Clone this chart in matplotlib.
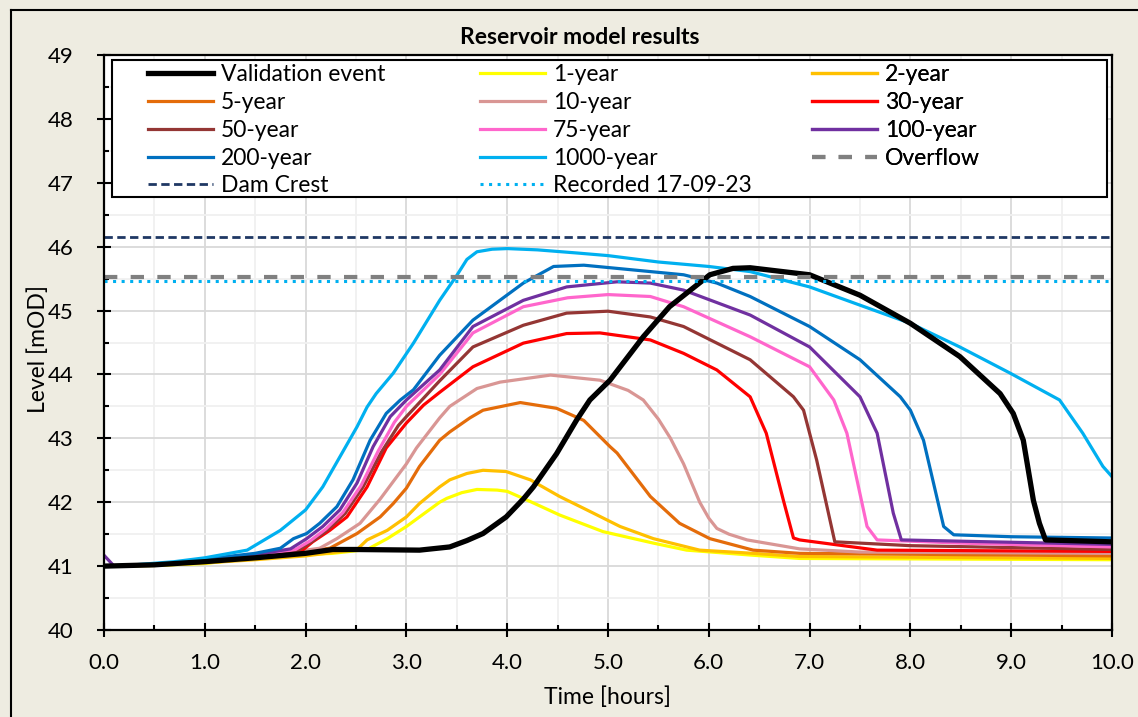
import numpy as np
import matplotlib
matplotlib.use("Agg")
import matplotlib.pyplot as plt
from matplotlib.lines import Line2D
from matplotlib.patches import Rectangle
from matplotlib.ticker import MultipleLocator, FormatStrFormatter

plt.rcParams['font.family'] = ['Lato', 'DejaVu Sans']

# ---- data (time in hours, level in mOD) ----
val_t = [0, 0.5, 1.0, 1.5, 2.0, 2.27, 2.5, 3.13, 3.43, 3.6, 3.76, 3.99, 4.16, 4.26, 4.49, 4.69,
         4.82, 5.02, 5.35, 5.61, 6.01, 6.24, 6.41, 7.0, 7.5, 8.0, 8.49, 8.89, 9.02, 9.12, 9.22,
         9.28, 9.34, 10.0]
val_l = [41.0, 41.02, 41.07, 41.13, 41.2, 41.26, 41.26, 41.25, 41.30, 41.4, 41.51, 41.77, 42.05,
         42.24, 42.76, 43.29, 43.6, 43.91, 44.59, 45.06, 45.56, 45.66, 45.67, 45.56, 45.24, 44.80,
         44.28, 43.7, 43.39, 42.97, 42.03, 41.67, 41.41, 41.38]

y1_t = [0, 0.5, 1.0, 1.61, 2.27, 2.61, 2.81, 3.0, 3.13, 3.33, 3.4, 3.55, 3.7, 3.9, 4.0, 4.23,
        4.52, 4.95, 5.45, 5.78, 6.44, 6.9, 10.0]
y1_l = [41.0, 41.01, 41.04, 41.15, 41.20, 41.26, 41.43, 41.62, 41.77, 42.0, 42.06, 42.15, 42.20,
        42.19, 42.17, 42.01, 41.80, 41.54, 41.36, 41.25, 41.17, 41.12, 41.10]

y2_t = [0, 0.5, 1.0, 1.5, 2.0, 2.51, 2.61, 2.81, 3.0, 3.13, 3.33, 3.43, 3.6, 3.76, 3.99, 4.23,
        4.52, 4.79, 5.12, 5.45, 5.91, 6.44, 6.9, 10.0]
y2_l = [41.0, 41.01, 41.05, 41.1, 41.16, 41.26, 41.41, 41.56, 41.77, 41.98, 42.24, 42.35, 42.45,
        42.50, 42.48, 42.35, 42.09, 41.88, 41.62, 41.43, 41.25, 41.20, 41.15, 41.12]

y5_t = [0, 0.5, 1.0, 1.5, 2.24, 2.51, 2.74, 2.87, 3.0, 3.13, 3.33, 3.43, 3.63, 3.76, 4.13, 4.49,
        4.69, 4.76, 5.02, 5.09, 5.42, 5.71, 6.01, 6.44, 6.9, 10.0]
y5_l = [41.0, 41.02, 41.06, 41.13, 41.28, 41.51, 41.77, 41.98, 42.22, 42.56, 42.97, 43.10, 43.32,
        43.44, 43.56, 43.47, 43.33, 43.28, 42.87, 42.77, 42.09, 41.67, 41.43, 41.25, 41.20, 41.16]

y10_t = [0, 0.5, 1.0, 1.5, 2.14, 2.31, 2.54, 2.74, 3.0, 3.1, 3.33, 3.43, 3.7, 3.93, 4.43, 4.92,
         5.2, 5.35, 5.5, 5.62, 5.75, 5.91, 6.0, 6.08, 6.2, 6.38, 6.9, 7.5, 10.0]
y10_l = [41.0, 41.02, 41.07, 41.14, 41.28, 41.43, 41.67, 42.05, 42.6, 42.85, 43.32, 43.5, 43.78,
         43.88, 43.99, 43.91, 43.75, 43.6, 43.3, 43.0, 42.6, 42.0, 41.75, 41.59, 41.5, 41.41,
         41.27, 41.22, 41.20]

y30_t = [0, 0.5, 1.0, 1.5, 1.97, 2.07, 2.24, 2.41, 2.61, 2.8, 3.0, 3.17, 3.33, 3.66, 4.16, 4.59,
         4.92, 5.42, 5.75, 6.08, 6.41, 6.57, 6.74, 6.84, 6.9, 7.67, 10.0]
y30_l = [41.0, 41.02, 41.07, 41.15, 41.25, 41.38, 41.56, 41.77, 42.24, 42.85, 43.24, 43.52, 43.72,
         44.12, 44.49, 44.64, 44.65, 44.54, 44.33, 44.07, 43.65, 43.08, 42.03, 41.44, 41.41,
         41.25, 41.23]

y50_t = [0, 0.5, 1.0, 1.5, 1.93, 2.06, 2.22, 2.39, 2.57, 2.75, 2.92, 3.0, 3.33, 3.66, 4.16, 4.59,
         5.0, 5.42, 5.75, 6.41, 6.84, 6.94, 7.07, 7.25, 8.0, 10.0]
y50_l = [41.0, 41.02, 41.08, 41.16, 41.25, 41.38, 41.57, 41.82, 42.24, 42.78, 43.2, 43.34, 43.9,
         44.43, 44.77, 44.96, 44.99, 44.90, 44.75, 44.23, 43.65, 43.44, 42.66, 41.38, 41.32, 41.26]

y75_t = [0, 0.5, 1.0, 1.5, 1.9, 2.05, 2.2, 2.37, 2.55, 2.72, 2.88, 3.0, 3.33, 3.66, 4.16, 4.6,
         5.0, 5.42, 5.75, 6.41, 7.0, 7.24, 7.37, 7.57, 7.67, 8.5, 10.0]
y75_l = [41.0, 41.02, 41.08, 41.17, 41.26, 41.4, 41.58, 41.84, 42.26, 42.8, 43.25, 43.5, 44.0,
         44.65, 45.06, 45.2, 45.25, 45.22, 45.06, 44.59, 44.12, 43.6, 43.08, 41.62, 41.41, 41.36,
         41.30]

y100_t = [0, 0.1, 0.5, 1.0, 1.5, 1.85, 2.01, 2.17, 2.34, 2.51, 2.67, 2.84, 3.0, 3.33, 3.66, 4.16,
          4.59, 5.09, 5.42, 5.75, 6.41, 7.0, 7.5, 7.67, 7.83, 7.91, 8.5, 10.0]
y100_l = [41.17, 41.0, 41.02, 41.09, 41.18, 41.27, 41.43, 41.62, 41.88, 42.30, 42.87, 43.34, 43.6,
          44.07, 44.75, 45.16, 45.37, 45.45, 45.43, 45.32, 44.93, 44.43, 43.65, 43.08, 41.83,
          41.41, 41.39, 41.34]

y200_t = [0, 0.5, 1.0, 1.5, 1.75, 1.88, 2.01, 2.14, 2.31, 2.47, 2.64, 2.8, 2.94, 3.07, 3.33, 3.66,
          4.16, 4.46, 4.76, 5.09, 5.75, 6.08, 6.41, 7.0, 7.5, 7.9, 8.0, 8.13, 8.33, 8.43, 9.0, 10.0]
y200_l = [41.0, 41.02, 41.11, 41.2, 41.28, 41.43, 41.51, 41.67, 41.93, 42.35, 42.97, 43.39, 43.6,
          43.76, 44.30, 44.85, 45.43, 45.69, 45.71, 45.66, 45.56, 45.43, 45.22, 44.75, 44.23, 43.65,
          43.44, 42.97, 41.62, 41.49, 41.46, 41.44]

y1000_t = [0, 0.3, 0.7, 1.0, 1.42, 1.75, 2.0, 2.17, 2.34, 2.51, 2.61, 2.7, 2.87, 3.07, 3.33, 3.5,
           3.6, 3.7, 3.85, 4.0, 4.3, 4.7, 5.0, 5.5, 6.0, 6.41, 7.0, 7.49, 8.0, 8.49, 8.99, 9.48,
           9.71, 9.91, 10.0]
y1000_l = [41.0, 41.02, 41.07, 41.13, 41.25, 41.56, 41.88, 42.24, 42.71, 43.18, 43.49, 43.70, 44.02,
           44.49, 45.16, 45.55, 45.80, 45.92, 45.96, 45.97, 45.95, 45.90, 45.86, 45.76, 45.69,
           45.61, 45.37, 45.09, 44.80, 44.43, 44.02, 43.60, 43.08, 42.56, 42.40]

dam_crest = 46.15
overflow = 45.53
recorded = 45.46

series = [
    ("1-year", y1_t, y1_l, "#FFFF00"),
    ("2-year", y2_t, y2_l, "#FFC000"),
    ("5-year", y5_t, y5_l, "#E46C0A"),
    ("10-year", y10_t, y10_l, "#D99694"),
    ("30-year", y30_t, y30_l, "#FF0000"),
    ("50-year", y50_t, y50_l, "#943634"),
    ("75-year", y75_t, y75_l, "#FF66CC"),
    ("100-year", y100_t, y100_l, "#7030A0"),
    ("200-year", y200_t, y200_l, "#0070C0"),
    ("1000-year", y1000_t, y1000_l, "#00B0F0"),
]

FS = 16.5
W, H = 1138, 717
fig = plt.figure(figsize=(W / 100, H / 100), dpi=100, facecolor="#EEECE1")

# plot area in pixels: x 104..1112, y 55..630
ax = fig.add_axes([104 / W, 1 - 630 / H, 1008 / W, 575 / H])
ax.set_facecolor("white")

h = {}
for name, t, l, c in series:
    h[name], = ax.plot(t, l, color=c, lw=2.3, label=name, solid_joinstyle="round")
h["Validation event"], = ax.plot(val_t, val_l, color="black", lw=3.8, label="Validation event",
                                 solid_joinstyle="round")
h["Overflow"] = ax.axhline(overflow, color="#808080", lw=3.0, ls=(0, (3.2, 3.2)), label="Overflow")
h["Dam Crest"] = ax.axhline(dam_crest, color="#1F3864", lw=2.0, ls=(0, (3.0, 1.6)), label="Dam Crest")
h["Recorded 17-09-23"] = ax.axhline(recorded, color="#00B0F0", lw=2.2, ls=(0, (1, 1.8)),
                                    label="Recorded 17-09-23")

ax.set_xlim(0, 10)
ax.set_ylim(40, 49)
ax.xaxis.set_major_locator(MultipleLocator(1))
ax.xaxis.set_minor_locator(MultipleLocator(0.5))
ax.yaxis.set_major_locator(MultipleLocator(1))
ax.yaxis.set_minor_locator(MultipleLocator(0.5))
ax.xaxis.set_major_formatter(FormatStrFormatter("%.1f"))

ax.grid(which="major", color="#D9D9D9", lw=1.3)
ax.grid(which="minor", color="#F0F0F0", lw=1.3)
ax.set_axisbelow(True)

ax.tick_params(which="major", direction="inout", length=9.4, width=1.5, labelsize=16, colors="black")
ax.tick_params(axis="y", which="major", pad=17)
ax.tick_params(axis="x", which="major", pad=12)
ax.tick_params(which="minor", direction="in", length=3.6, width=1.5)
for s in ax.spines.values():
    s.set_linewidth(1.6)
    s.set_color("black")

ax.set_xlabel("Time [hours]", fontsize=FS)
ax.set_ylabel("Level [mOD]", fontsize=FS)
ax.xaxis.set_label_coords(0.5, (630 - 686) / 575)
ax.yaxis.set_label_coords((49 - 104) / 1008, (630 - 349) / 575)

# legend box
ax.add_patch(Rectangle(((112 - 104) / 1008, (630 - 197) / 575), 995 / 1008, 137 / 575,
                       transform=ax.transAxes, facecolor="white", edgecolor="black", lw=1.5,
                       zorder=5))
cols = [
    ["Validation event", "5-year", "50-year", "200-year", "Dam Crest"],
    ["1-year", "10-year", "75-year", "1000-year", "Recorded 17-09-23"],
    ["2-year", "30-year", "100-year", "Overflow"],
]
col_x = [148, 480, 812]
for names, cx in zip(cols, col_x):
    leg = ax.legend([h[n] for n in names], names, loc="upper left",
                    bbox_to_anchor=((cx - 104) / 1008, (630 - 64) / 575),
                    frameon=False, fontsize=FS, handlelength=2.84, handletextpad=0.35,
                    labelspacing=0.30, borderpad=0, borderaxespad=0)
    leg.set_zorder(6)
    ax.add_artist(leg)

# outer chart border and title
fig.add_artist(Line2D([11 / W, 1], [1 - 10 / H, 1 - 10 / H], transform=fig.transFigure, color="black", lw=1.5))
fig.add_artist(Line2D([11 / W, 11 / W], [0, 1 - 10 / H], transform=fig.transFigure, color="black", lw=1.5))
fig.text(580 / W, 1 - 38 / H, "Reservoir model results", ha="center", va="center",
         fontsize=16.5, fontweight="bold")

fig.savefig("out.png", dpi=100, facecolor=fig.get_facecolor())
